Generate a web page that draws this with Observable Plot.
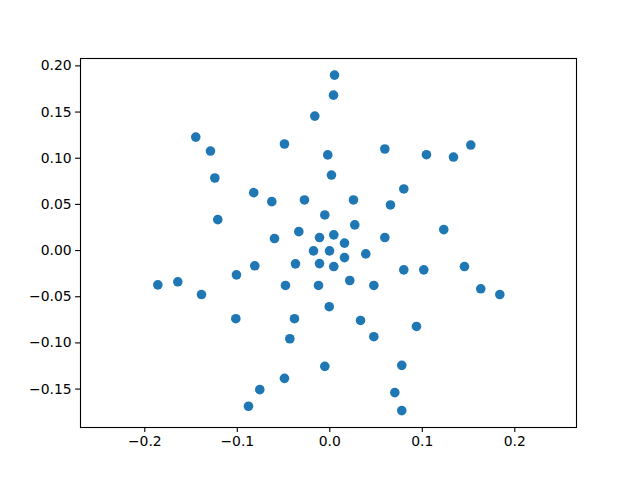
<!DOCTYPE html>
<html>
<head>
<meta charset="utf-8">
<script src="https://cdn.jsdelivr.net/npm/d3@7"></script>
<script src="https://cdn.jsdelivr.net/npm/@observablehq/plot@0.6"></script>
<style>
  html, body { margin: 0; padding: 0; background: #fff; }
</style>
</head>
<body>
<div id="chart"></div>
<script>
const xValues = [
  0.0051, 0.0040, -0.0162, -0.1449, -0.1290, -0.0490, -0.0022, -0.1243,
  0.0018, -0.0822, -0.0627, -0.0274, -0.0054, -0.1211, -0.0598, -0.0335,
  -0.0111, 0.0043, 0.0159, 0.0595, 0.1045, 0.1337, 0.1524, 0.0800,
  0.0256, 0.0656, 0.0270, 0.1232, 0.0595, -0.0176, -0.0003, -0.0811,
  -0.0371, -0.0111, 0.0043, -0.1009, -0.1859, -0.1643, -0.1387, -0.0479,
  -0.0122, -0.0006, -0.1016, -0.0382, -0.0432, -0.0054, -0.0490, -0.0757,
  -0.0879, 0.0159, 0.0389, 0.0800, 0.1016, 0.1456, 0.0216, 0.0476,
  0.1632, 0.1838, 0.0332, 0.0937, 0.0476, 0.0778, 0.0703, 0.0778
];
const yValues = [
  0.1900, 0.1683, 0.1456, 0.1229, 0.1078, 0.1154, 0.1036, 0.0786,
  0.0818, 0.0627, 0.0530, 0.0548, 0.0386, 0.0335, 0.0130, 0.0205,
  0.0141, 0.0170, 0.0081, 0.1100, 0.1038, 0.1013, 0.1143, 0.0667,
  0.0548, 0.0494, 0.0278, 0.0227, 0.0141, -0.0003, -0.0003, -0.0165,
  -0.0144, -0.0141, -0.0173, -0.0263, -0.0371, -0.0338, -0.0476, -0.0378,
  -0.0378, -0.0608, -0.0738, -0.0738, -0.0955, -0.1254, -0.1384, -0.1506,
  -0.1686, -0.0076, -0.0036, -0.0209, -0.0209, -0.0173, -0.0324, -0.0378,
  -0.0414, -0.0476, -0.0757, -0.0822, -0.0933, -0.1243, -0.1538, -0.1733
];
const xTicks = [-0.2, -0.1, 0.0, 0.1, 0.2];
const yTicks = [-0.15, -0.10, -0.05, 0.00, 0.05, 0.10, 0.15, 0.20];

const points = xValues.map((x, i) => ({x, y: yValues[i]}));
const minus = s => s.replace("-", "\u2212");

const chart = Plot.plot({
  width: 640,
  height: 480,
  marginLeft: 80,
  marginRight: 64,
  marginTop: 58,
  marginBottom: 53,
  style: {fontFamily: "DejaVu Sans", fontSize: "13.9px", color: "black", background: "white"},
  x: {domain: [-0.2695, 0.2667]},
  y: {domain: [-0.1916, 0.2080]},
  marks: [
    Plot.dot(points, {x: "x", y: "y", r: 4.8, fill: "#1f77b4", stroke: "#1f77b4", strokeWidth: 0}),
    Plot.frame({stroke: "black", strokeWidth: 1.1}),
    Plot.axisX({ticks: xTicks, tickFormat: d => minus(d3.format(".1f")(d)), tickSize: 4.9, tickPadding: 4, strokeWidth: 1.1, fontSize: 13.9, label: null}),
    Plot.axisY({ticks: yTicks, tickFormat: d => minus(d3.format(".2f")(d)), tickSize: 4.9, tickPadding: 4, strokeWidth: 1.1, fontSize: 13.9, label: null})
  ]
});
document.getElementById("chart").appendChild(chart);
</script>
</body>
</html>
